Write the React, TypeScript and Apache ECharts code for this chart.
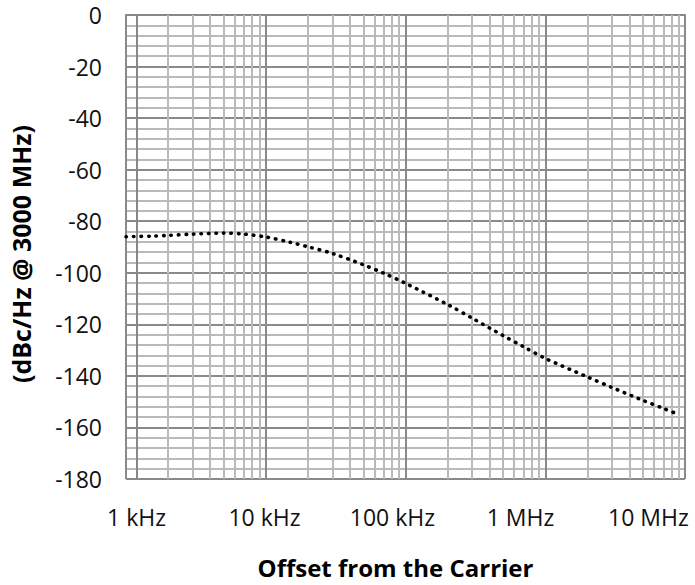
import React, { useEffect, useRef } from "react";
import * as echarts from "echarts";

const freqHz = [
  1000, 1500, 2000, 3000, 5000, 7000, 10000, 15000, 20000, 30000, 50000, 70000,
  100000, 200000, 300000, 500000, 700000, 1000000, 2000000, 3000000, 5000000,
  7000000, 9000000,
];
const phaseNoise = [
  -86.0, -85.8, -85.5, -85.0, -84.6, -85.0, -86.1, -88.2, -89.9, -92.5, -96.9,
  -100.2, -104.1, -112.3, -117.6, -124.4, -128.7, -133.2, -140.4, -144.5,
  -149.5, -152.6, -155.0,
];
const xTickLabels = ["1 kHz", "10 kHz", "100 kHz", "1 MHz", "10 MHz"];
const decades = [1000, 10000, 100000, 1000000];
const minorMultipliers = [2, 3, 4, 5, 6, 7, 8, 9];

const FONT = "'Open Sans', 'Noto Sans', sans-serif";

export default function App() {
  const ref = useRef<HTMLDivElement>(null);
  useEffect(() => {
    document.body.style.margin = "0";
    const chart = echarts.init(ref.current!, null, { renderer: "svg" });
    const minorFreqs: number[] = [];
    decades.forEach((d) => minorMultipliers.forEach((m) => minorFreqs.push(d * m)));
    chart.setOption({
      animation: false,
      backgroundColor: "#fff",
      grid: { left: 125, top: 15, right: 10, bottom: 106, containLabel: false },
      xAxis: [
        {
          type: "log",
          logBase: 10,
          min: 1000,
          max: 10000000,
          axisLine: { show: true, lineStyle: { color: "#888", width: 2 } },
          axisTick: { show: false },
          axisLabel: { show: false },
          splitLine: { show: true, lineStyle: { color: "#8a8a8a", width: 2 } },
        },
        {
          type: "value",
          position: "bottom",
          min: -0.0819,
          max: 4.286,
          axisLine: { show: false },
          axisTick: { show: false },
          splitLine: { show: false },
          axisLabel: {
            show: true,
            customValues: [0, 1, 2, 3, 4],
            formatter: (v: number) => xTickLabels[Math.round(v)] ?? "",
            fontFamily: FONT,
            fontSize: 23,
            color: "#111",
            margin: 26,
          },
          name: "Offset from the Carrier",
          nameLocation: "middle",
          nameGap: 76,
          nameTextStyle: {
            fontFamily: FONT,
            fontWeight: "bold",
            fontSize: 24,
            color: "#000",
            padding: [0, 20, 0, 0],
          },
        },
      ],
      yAxis: {
        type: "value",
        min: -180,
        max: 0,
        interval: 20,
        axisLine: { show: true, lineStyle: { color: "#888", width: 2 } },
        axisTick: { show: true, length: 8, lineStyle: { color: "#888", width: 2 } },
        axisLabel: { fontFamily: FONT, fontSize: 23, color: "#111", margin: 24 },
        splitLine: { show: true, lineStyle: { color: "#8a8a8a", width: 2 } },
        minorTick: { show: false, splitNumber: 5 },
        minorSplitLine: { show: true, lineStyle: { color: "#bababa", width: 2 } },
        name: "(dBc/Hz @ 3000 MHz)",
        nameLocation: "middle",
        nameGap: 93,
        nameTextStyle: {
          fontFamily: FONT,
          fontWeight: "bold",
          fontSize: 25,
          color: "#000",
          padding: [0, 14, 0, 0],
        },
      },
      series: [
        {
          type: "line",
          xAxisIndex: 0,
          data: [],
          z: 1,
          silent: true,
          markLine: {
            silent: true,
            symbol: "none",
            label: { show: false },
            lineStyle: { color: "#bababa", width: 2, type: "solid" },
            data: minorFreqs.map((f) => ({ xAxis: f })),
          },
        },
        {
          type: "line",
          xAxisIndex: 0,
          z: 5,
          data: freqHz.map((f, i) => [f, phaseNoise[i]]),
          showSymbol: false,
          smooth: 0.3,
          lineStyle: { color: "#000", width: 3.6, type: [0.5, 7], cap: "round" },
        },
      ],
    });
    return () => chart.dispose();
  }, []);
  return <div ref={ref} style={{ width: 695, height: 585 }} />;
}
